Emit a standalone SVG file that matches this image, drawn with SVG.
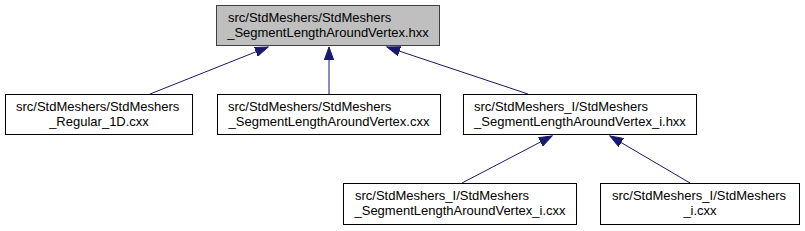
<svg xmlns="http://www.w3.org/2000/svg" width="805" height="231" viewBox="0 0 805 231">
<style>
.n rect{fill:#ffffff;stroke:#000000;stroke-width:1}
.n.top rect{fill:#bfbfbf;stroke:#404040}
.n text{font-family:"Liberation Sans",Arial,sans-serif;font-size:13px;fill:#000000}
.e path{fill:none;stroke:#191970;stroke-width:1}
</style>
<defs>
<marker id="ah" markerUnits="userSpaceOnUse" markerWidth="14" markerHeight="10" viewBox="0 0 14 10" refX="13" refY="5" orient="auto">
<path d="M0,0.3 L13,5 L0,9.7 z" fill="#191970" stroke="#191970"/>
</marker>
</defs>
<rect width="805" height="231" fill="#ffffff"/>
<g id="edges" class="e">
<path d="M150,94 L268,47" marker-end="url(#ah)"/>
<path d="M329,94 L329,47" marker-end="url(#ah)"/>
<path d="M528,94 L387,47" marker-end="url(#ah)"/>
<path d="M462,183 L552,136" marker-end="url(#ah)"/>
<path d="M690,183 L610,136" marker-end="url(#ah)"/>
</g>
<g id="node_top" class="n top">
<rect x="216.5" y="5.5" width="223" height="40"/>
<text x="228" y="22">src/StdMeshers/StdMeshers</text>
<text x="328" y="37" text-anchor="middle">_SegmentLengthAroundVertex.hxx</text>
</g>
<g id="node_regular" class="n">
<rect x="5.5" y="94.5" width="187" height="40"/>
<text x="16" y="111">src/StdMeshers/StdMeshers</text>
<text x="99" y="126" text-anchor="middle">_Regular_1D.cxx</text>
</g>
<g id="node_cxx" class="n">
<rect x="217.5" y="94.5" width="223" height="40"/>
<text x="228" y="111">src/StdMeshers/StdMeshers</text>
<text x="329" y="126" text-anchor="middle">_SegmentLengthAroundVertex.cxx</text>
</g>
<g id="node_ihxx" class="n">
<rect x="463.5" y="94.5" width="233" height="40"/>
<text x="474" y="111">src/StdMeshers_I/StdMeshers</text>
<text x="580" y="126" text-anchor="middle">_SegmentLengthAroundVertex_i.hxx</text>
</g>
<g id="node_icxx" class="n">
<rect x="343.5" y="183.5" width="233" height="41"/>
<text x="355" y="200">src/StdMeshers_I/StdMeshers</text>
<text x="460" y="215" text-anchor="middle">_SegmentLengthAroundVertex_i.cxx</text>
</g>
<g id="node_i" class="n">
<rect x="600.5" y="183.5" width="199" height="41"/>
<text x="612" y="200">src/StdMeshers_I/StdMeshers</text>
<text x="700" y="215" text-anchor="middle">_i.cxx</text>
</g>
</svg>
